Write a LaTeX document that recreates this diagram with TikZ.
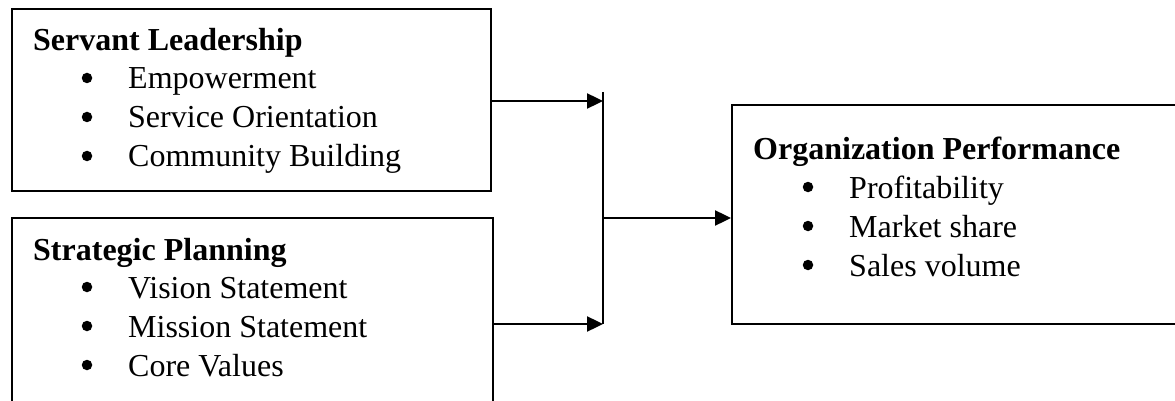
\documentclass[tikz,border=0pt]{standalone}
\usepackage{fontspec}
\setmainfont{Liberation Serif}
\usetikzlibrary{arrows.meta}

\tikzset{
  panel/.style={draw=black, line width=2pt, rectangle, inner sep=0pt},
  heading/.style={anchor=base west, inner sep=0pt, font=\fontsize{32}{39}\selectfont\bfseries},
  dot/.style={circle, fill=black, inner sep=0pt, minimum size=10.5pt},
  entry/.style={anchor=base west, inner sep=0pt, font=\fontsize{32}{39}\selectfont},
  link/.style={line width=2.4pt, draw=black},
  arr/.style={link, -{Triangle[length=16pt, width=15pt]}}
}

\begin{document}
\begin{tikzpicture}[x=1pt, y=-1pt]
  \useasboundingbox (0,0) rectangle (1175,401);
  \clip (0,0) rectangle (1175,401);
  \fill[white] (0,0) rectangle (1175,401);

  % left-hand boxes and the outcome box
  \node[panel, minimum width=479pt, minimum height=182pt] (sl) at (251.5,100) {};
  \node[panel, minimum width=481pt, minimum height=222pt] (sp) at (252.5,329) {};
  \node[panel, minimum width=470pt, minimum height=219pt] (op) at (967,214.5) {};

  % Servant Leadership
  \node[heading] (slh) at (33,51) {Servant Leadership};
  \node[dot] (slb1) at (87,78) {};
  \node[entry] (sl1) at (128,89) {Empowerment};
  \node[dot] (slb2) at (87,117) {};
  \node[entry] (sl2) at (128,128) {Service Orientation};
  \node[dot] (slb3) at (87,156) {};
  \node[entry] (sl3) at (128,167) {Community Building};

  % Strategic Planning
  \node[heading] (sph) at (33,260) {Strategic Planning};
  \node[dot] (spb1) at (87,287) {};
  \node[entry] (sp1) at (128,298) {Vision Statement};
  \node[dot] (spb2) at (87,326) {};
  \node[entry] (sp2) at (128,337) {Mission Statement};
  \node[dot] (spb3) at (87,365) {};
  \node[entry] (sp3) at (128,376) {Core Values};

  % Organization Performance
  \node[heading] (oph) at (753,159) {Organization Performance};
  \node[dot] (opb1) at (808,187) {};
  \node[entry] (op1) at (849,198) {Profitability};
  \node[dot] (opb2) at (808,226) {};
  \node[entry] (op2) at (849,237) {Market share};
  \node[dot] (opb3) at (808,265) {};
  \node[entry] (op3) at (849,276) {Sales volume};

  % junction bar
  \coordinate (jtop) at (603,92);
  \coordinate (in1) at (603,101);
  \coordinate (in2) at (603,324);
  \coordinate (jmid) at (603,218);

  \draw[link] (jtop) -- (in2);
  \draw[arr] (sl.east |- in1) -- (in1);
  \draw[arr] (sp.east |- in2) -- (in2);
  \draw[arr] (jmid) -- (op.west |- jmid);
\end{tikzpicture}
\end{document}
